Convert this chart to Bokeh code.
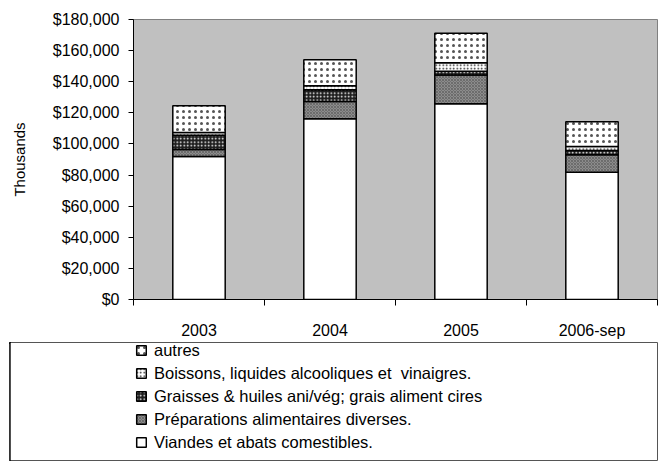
from bokeh.plotting import figure
from bokeh.models import (Range1d, FixedTicker, SingleIntervalTicker, NumeralTickFormatter,
                          Legend, LegendItem, ColumnDataSource)
from bokeh.layouts import column
from bokeh.embed import file_html
from bokeh.resources import INLINE

# ---- data (in thousands of $) ----
years = ["2003", "2004", "2005", "2006-sep"]
viandes = [91900, 116200, 125800, 81800]
preparations = [4500, 11100, 18600, 11200]
graisses = [9200, 7500, 2400, 2800]
boissons = [1800, 2600, 5400, 2600]
autres = [17100, 16700, 19000, 15800]

series_keys = ["viandes", "preparations", "graisses", "boissons", "autres"]
series_names = [
    "Viandes et abats comestibles.",
    "Préparations alimentaires diverses.",
    "Graisses & huiles ani/vég; grais aliment cires",
    "Boissons, liquides alcooliques et  vinaigres.",
    "autres",
]
y_ticks_step = 20000
y_max = 180000

FONT = "Liberation Sans"
FS = "16px"

x_pos = [i + 0.5 for i in range(len(years))]
src = ColumnDataSource(dict(x=x_pos, viandes=viandes, preparations=preparations,
                            graisses=graisses, boissons=boissons, autres=autres))

fill_colors = ["white", "#8c8c8c", "#1e1e1e", "white", "white"]
hatch_patterns = [" ", "x", ".", ".", "."]
hatch_colors = ["black", "#555555", "white", "#222222", "#555555"]
hatch_scales = [6, 3, 3.5, 3.5, 6]
hatch_weights = [1, 0.6, 1, 1, 0.5]

def add_bars(fig):
    return fig.vbar_stack(series_keys, x="x", width=0.4, source=src,
                          fill_color=fill_colors, line_color="black", line_width=1.5,
                          hatch_pattern=hatch_patterns, hatch_color=hatch_colors,
                          hatch_scale=hatch_scales, hatch_weight=hatch_weights)

W = 665
TOTAL_H = 461
TOP_H = 341
LEG_H = TOTAL_H - TOP_H
FRAME_LEFT, FRAME_RIGHT = 133, 657
FRAME_TOP, FRAME_BOTTOM = 19, 299

# ---- main chart ----
p = figure(width=W, height=TOP_H, x_range=Range1d(0, len(years)), y_range=Range1d(0, y_max),
           output_backend="svg", toolbar_location=None,
           min_border_left=FRAME_LEFT, min_border_right=W - FRAME_RIGHT,
           min_border_top=FRAME_TOP, min_border_bottom=TOP_H - FRAME_BOTTOM,
           background_fill_color="#C0C0C0", border_fill_color="white",
           outline_line_color="#808080")
p.grid.visible = False
add_bars(p)

xa = p.xaxis[0]
xa.ticker = FixedTicker(ticks=x_pos, minor_ticks=list(range(len(years) + 1)))
xa.major_label_overrides = {xp: y for xp, y in zip(x_pos, years)}
xa.major_tick_line_color = None
xa.major_tick_out = 0
xa.major_tick_in = 0
xa.minor_tick_out = 6
xa.minor_tick_in = 0
xa.minor_tick_line_color = "black"
xa.axis_line_color = "black"
xa.major_label_standoff = 16
xa.major_label_text_font = FONT
xa.major_label_text_font_size = FS
xa.major_label_text_color = "black"

ya = p.yaxis[0]
ya.ticker = SingleIntervalTicker(interval=y_ticks_step, num_minor_ticks=0)
ya.formatter = NumeralTickFormatter(format="$0,0")
ya.major_tick_out = 5
ya.major_tick_in = 0
ya.minor_tick_line_color = None
ya.axis_line_color = "black"
ya.major_tick_line_color = "black"
ya.major_label_standoff = 9
ya.major_label_text_font = FONT
ya.major_label_text_font_size = FS
ya.major_label_text_color = "black"
ya.axis_label = "Thousands"
ya.axis_label_text_font = FONT
ya.axis_label_text_font_size = "15px"
ya.axis_label_text_font_style = "normal"
ya.axis_label_text_color = "black"
ya.axis_label_standoff = 22

# ---- legend panel (its frame outline is the legend box) ----
p2 = figure(width=W, height=LEG_H, x_range=Range1d(10, 11), y_range=Range1d(0, 1),
            output_backend="svg", toolbar_location=None,
            min_border_left=9, min_border_right=W - FRAME_RIGHT, min_border_top=1,
            min_border_bottom=0,
            background_fill_color="white", border_fill_color="white",
            outline_line_color="#555555", x_axis_location=None, y_axis_location=None)
p2.grid.visible = False
rs = add_bars(p2)

for fig in (p, p2):
    try:
        fig.frame_align = False
    except Exception:
        pass

LABEL_H = 22
SPACING = 1
frame_h = LEG_H - 1
leg_box_h = LABEL_H * len(series_names) + SPACING * (len(series_names) - 1)
items = [LegendItem(label=name, renderers=[r]) for name, r in zip(series_names, rs)][::-1]
legend = Legend(items=items, location=(126, frame_h - leg_box_h + 3), orientation="vertical",
                label_text_font=FONT, label_text_font_size="16.5px", label_text_color="black",
                glyph_width=12, glyph_height=12, label_height=LABEL_H, spacing=SPACING,
                padding=0, margin=0, label_standoff=7,
                border_line_color=None, background_fill_alpha=0)
p2.add_layout(legend, "center")

layout = column(p, p2)
open("out.html", "w").write(file_html(layout, INLINE))
